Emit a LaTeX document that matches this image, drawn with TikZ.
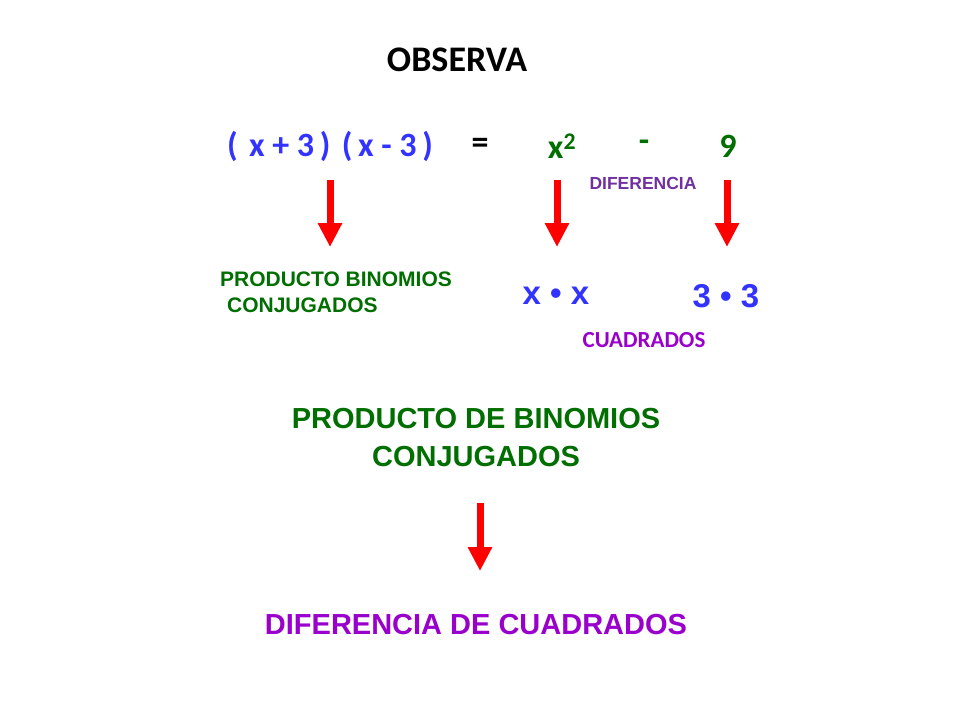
\documentclass[tikz,border=0pt]{standalone}
\usepackage{fontspec}
\setmainfont{Liberation Sans}
\newfontfamily\calfont{Carlito}
\usetikzlibrary{arrows.meta}
\definecolor{bl}{RGB}{51,51,255}
\definecolor{gr}{RGB}{0,110,0}
\definecolor{pu}{RGB}{153,0,204}
\definecolor{pd}{RGB}{112,48,160}
\tikzset{
 bigarrow/.style={red, line width=7pt, -{Triangle[width=23pt,length=24pt]}},
 t/.style={inner sep=0pt, font=\bfseries}
}
\begin{document}
\begin{tikzpicture}[x=1pt,y=-1pt]
\useasboundingbox (0,0) rectangle (960,720);
\node[t,font=\calfont\bfseries\fontsize{36}{40}\selectfont] (obs) at (457,60) {OBSERVA};
\node[t,text=bl,font=\calfont\bfseries\fontsize{34}{40}\selectfont] (lhs) at (330,146) {(\,\,x + 3\,)\,\,(\,x - 3\,)};
\node[t,font=\calfont\bfseries\fontsize{34}{40}\selectfont] (eq) at (480,146) {=};
\node[t,text=gr,font=\calfont\bfseries\fontsize{34}{40}\selectfont] (x2) at (562,146) {x\textsuperscript{2}};
\node[t,text=gr,font=\calfont\bfseries\fontsize{34}{40}\selectfont] (mn) at (644,146) {-};
\node[t,text=gr,font=\calfont\bfseries\fontsize{34}{40}\selectfont] (nine) at (728,146) {9};
\node[t,text=pd,font=\bfseries\fontsize{17.5}{20}\selectfont] (dif) at (643,183) {DIFERENCIA};
\coordinate (a1s) at (330,180); \coordinate (a1e) at (330,247);
\coordinate (a2s) at (557,180); \coordinate (a2e) at (557,247);
\coordinate (a3s) at (727,180); \coordinate (a3e) at (727,247);
\draw[bigarrow] (a1s) -- (a1e);
\draw[bigarrow] (a2s) -- (a2e);
\draw[bigarrow] (a3s) -- (a3e);
\node[t,text=gr,font=\bfseries\fontsize{21}{26}\selectfont,align=center] (pbc) at (336,292) {PRODUCTO BINOMIOS\\CONJUGADOS\hspace*{3.2em}};
\node[t,text=bl,font=\bfseries\fontsize{33}{38}\selectfont] (xx) at (556,296) {x • x};
\node[t,text=bl,font=\bfseries\fontsize{33}{38}\selectfont] (tt) at (726,296) {3 • 3};
\node[t,text=pu,font=\calfont\bfseries\fontsize{23}{28}\selectfont] (cua) at (644,340) {CUADRADOS};
\node[t,text=gr,font=\bfseries\fontsize{29}{38}\selectfont,align=center] (pdb) at (476,438) {PRODUCTO DE BINOMIOS\\CONJUGADOS};
\coordinate (a4s) at (480,503); \coordinate (a4e) at (480,571);
\draw[bigarrow] (a4s) -- (a4e);
\node[t,text=pu,font=\bfseries\fontsize{29}{34}\selectfont] (ddc) at (476,625) {DIFERENCIA DE CUADRADOS};
\end{tikzpicture}
\end{document}
